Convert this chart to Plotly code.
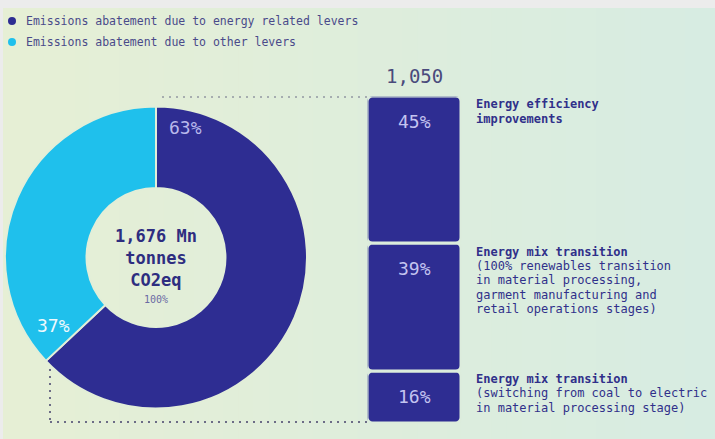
import plotly.graph_objects as go

W, H = 715, 439

# ---------------- data ----------------
pie_labels = ["Emissions abatement due to energy related levers",
              "Emissions abatement due to other levers"]
pie_values = [63, 37]
pie_colors = ["#2e2d92", "#1fc0ec"]
total_label = ["1,676 Mn", "tonnes", "CO2eq"]
total_pct = "100%"

bar_values = [16, 39, 45]          # bottom -> top
bar_labels = ["16%", "39%", "45%"]
bar_total = "1,050"
bar_desc = [
    ["<b>Energy mix transition</b>", "(switching from coal to electric",
     "in material processing stage)"],
    ["<b>Energy mix transition</b>", "(100% renewables transition",
     "in material processing,", "garment manufacturing and",
     "retail operations stages)"],
    ["<b>Energy efficiency</b>", "<b>improvements</b>"],
]

FONT = "DejaVu Sans Mono"
DARK = "#2e2d92"
TXT = "#30308a"


def px(x):
    return x / W


def py(y):
    return 1 - y / H


fig = go.Figure()

# ---------------- donut ----------------
cx, cy, R = 156, 257.5, 151
fig.add_trace(go.Pie(
    labels=pie_labels, values=pie_values, sort=False, direction="clockwise",
    rotation=0, hole=0.46, textinfo="none", hoverinfo="label+percent",
    marker=dict(colors=pie_colors, line=dict(color="#e2eed8", width=2)),
    domain=dict(x=[px(cx - R), px(cx + R)], y=[py(cy + R), py(cy - R)]),
    showlegend=False,
))

# ---------------- stacked bar ----------------
bases = []
acc = 0
for v in bar_values:
    bases.append(acc)
    acc += v
fig.add_trace(go.Bar(
    x=[0] * len(bar_values), y=bar_values, base=bases, width=1,
    marker=dict(color=DARK, line=dict(color="#dcecdc", width=3),
                cornerradius=6),
    showlegend=False, hoverinfo="y",
))

fig.update_xaxes(domain=[px(367.5), px(461.5)], range=[-0.5, 0.5],
                 visible=False, fixedrange=True)
fig.update_yaxes(domain=[15.5 / H, 342.5 / H], range=[0, acc],
                 visible=False, fixedrange=True)

ann = []
# bar value labels & descriptions
for b, v, lab, desc in zip(bases, bar_values, bar_labels, bar_desc):
    top = b + v
    ann.append(dict(x=0, y=top, xref="x", yref="y", text=lab, showarrow=False,
                    xanchor="center", yanchor="middle", yshift=-25,
                    font=dict(family=FONT, size=18, color="#c4c4f0")))
    for i, line in enumerate(desc):
        ann.append(dict(x=px(474), y=top, xref="paper", yref="y", text=line,
                        showarrow=False, xanchor="left", yanchor="middle",
                        yshift=-(8 + 14.3 * i),
                        font=dict(family=FONT, size=12, color=TXT)))
ann.append(dict(x=0, y=acc, xref="x", yref="y", text=bar_total, showarrow=False,
                xanchor="center", yanchor="middle", yshift=20,
                font=dict(family=FONT, size=19, color="#4a4a7c")))

# donut labels
ann.append(dict(x=px(185), y=py(128), xref="paper", yref="paper",
                text=f"{pie_values[0]}%", showarrow=False,
                xanchor="center", yanchor="middle",
                font=dict(family=FONT, size=18, color="#b9b9ec")))
ann.append(dict(x=px(53), y=py(325), xref="paper", yref="paper",
                text=f"{pie_values[1]}%", showarrow=False,
                xanchor="center", yanchor="middle",
                font=dict(family=FONT, size=18, color="#eef9fd")))
# centre text (one multi-line block)
ann.append(dict(x=px(156), y=py(258), xref="paper", yref="paper",
                text="<br>".join(f"<b>{t}</b>" for t in total_label),
                showarrow=False, xanchor="center", yanchor="middle",
                align="center",
                font=dict(family=FONT, size=17, color="#2e2d80")))
ann.append(dict(x=px(156), y=py(299), xref="paper", yref="paper",
                text=total_pct, showarrow=False,
                xanchor="center", yanchor="middle",
                font=dict(family=FONT, size=10, color="#6a6aa4")))

# legend (text)
for i, lab in enumerate(pie_labels):
    ann.append(dict(x=px(24), y=py(21 + 21 * i), xref="paper", yref="paper",
                    text=lab, showarrow=False, xanchor="left", yanchor="middle",
                    font=dict(family=FONT, size=11.5, color="#4a4a8a")))

shapes = []
# background gradient (decorative)
c0 = (0xe6, 0xef, 0xd5)
c1 = (0xd7, 0xec, 0xe2)
N = 48
for k in range(N):
    t = k / (N - 1)
    col = "rgb(%d,%d,%d)" % tuple(round(a + (b - a) * t) for a, b in zip(c0, c1))
    shapes.append(dict(type="rect", xref="paper", yref="paper", layer="below",
                       x0=k / N, x1=(k + 1) / N + 0.002, y0=0, y1=1,
                       line=dict(width=0), fillcolor=col))
shapes.append(dict(type="rect", xref="paper", yref="paper", layer="below",
                   x0=0, x1=1, y0=py(8), y1=1, line=dict(width=0),
                   fillcolor="#ececec"))
shapes.append(dict(type="rect", xref="paper", yref="paper", layer="below",
                   x0=0, x1=px(3), y0=0, y1=1, line=dict(width=0),
                   fillcolor="#ececec"))
# legend markers
for i, c in enumerate(pie_colors):
    yc = 21 + 21 * i
    shapes.append(dict(type="circle", xref="paper", yref="paper",
                       x0=px(8), x1=px(16), y0=py(yc + 4), y1=py(yc - 4),
                       line=dict(width=0), fillcolor=c))
# dotted connectors
dot = dict(color="#6c6c86", width=2, dash="2px,5px")
shapes.append(dict(type="line", xref="paper", yref="y", x0=px(162), x1=px(367),
                   y0=acc, y1=acc, line=dot))
shapes.append(dict(type="line", xref="paper", yref="paper", x0=px(50), x1=px(50),
                   y0=py(369), y1=py(422), line=dot))
shapes.append(dict(type="line", xref="paper", yref="paper", x0=px(50), x1=px(367),
                   y0=py(422), y1=py(422), line=dot))

fig.update_layout(
    width=W, height=H, margin=dict(l=0, r=0, t=0, b=0),
    paper_bgcolor="#e0eedb", plot_bgcolor="rgba(0,0,0,0)",
    annotations=ann, shapes=shapes, showlegend=False,
    bargap=0,
)

fig.write_html("out.html")
